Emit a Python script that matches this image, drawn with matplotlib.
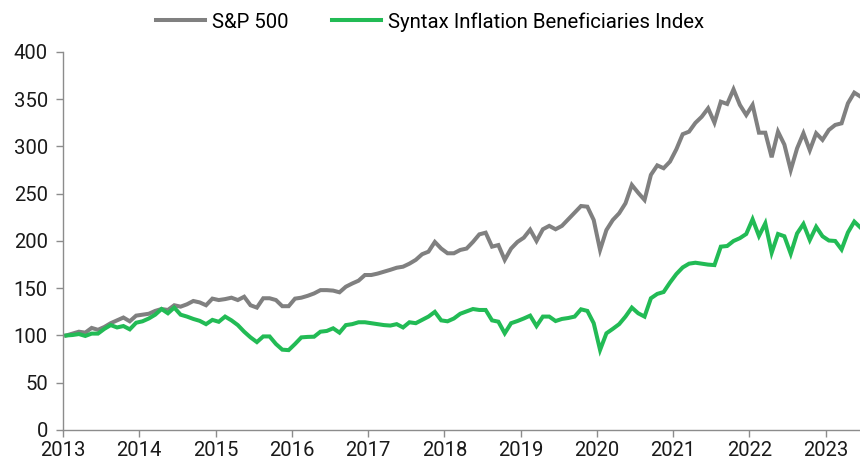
import numpy as np
import matplotlib
matplotlib.use("Agg")
import matplotlib.pyplot as plt

GREY, GREEN, INK, AXIS = "#808080", "#22BB55", "#1a1a1a", "#8c8c8c"

plt.rcParams.update({
    "font.family": ["Roboto", "DejaVu Sans"],
    "font.size": 14.4,
})

# monthly index levels, Jan 2013 .. Jun 2023 (start = 100)
SP500 = [
    100, 102, 104, 103, 108, 106, 109, 113, 116, 119, 115, 121,
    122, 123, 126, 128, 127, 132, 130.5, 133, 136.5, 135, 132, 139,
    137.5, 138.5, 140, 137.5, 141, 132, 129.5, 139.4, 139.4, 137.5, 131, 131,
    139, 140, 142, 144.5, 148, 148, 147.5, 145.7, 151.6, 155, 158, 164,
    164, 165.5, 167.5, 169.5, 171.7, 172.8, 176, 180, 186, 188.7, 199, 192,
    187, 187, 190.5, 192, 199, 207, 208.8, 194, 195.7, 180, 192, 199,
    203.5, 212, 200, 212.4, 216, 212.4, 216, 223, 230, 237, 236.3, 222.2,
    190.5, 211.6, 222.2, 229.3, 239.9, 259.3, 251, 243.4, 270, 280, 277, 284,
    297, 313, 315.7, 325, 331.5, 340.4, 325.2, 347.4, 345, 360.5, 344, 333.3,
    344, 314.6, 314.6, 288.6, 315.7, 302, 275, 298, 314, 296, 314, 307,
    317.5, 322.8, 324.5, 345.7, 357, 352.7,
]
SYNTAX = [
    100, 100.5, 101.5, 99.5, 102, 102, 107, 111, 108.5, 110, 106.5, 113.5,
    115, 118, 122, 128, 123.5, 129.5, 122, 120, 117.5, 115.5, 112, 116.5,
    114.5, 120, 116, 111, 104, 98, 93, 99, 99, 91, 85, 84.5,
    91, 98, 98.5, 98.7, 104, 104.8, 107.6, 103, 111, 112, 114, 114,
    113, 112, 111, 110.5, 112, 108.5, 114, 113, 116.5, 120, 125, 116,
    115, 118, 123, 125.5, 128, 127, 127, 116, 114.6, 102.3, 113, 115.3,
    118, 121, 110, 120, 120, 115.3, 117.5, 118.5, 120, 127.7, 126, 113,
    84.7, 102.3, 107, 112, 120, 129.5, 123.5, 120, 139.4, 144, 146, 156,
    165, 172, 176, 177, 176, 175, 174.5, 194, 194.7, 200, 203, 207.4,
    223, 205.3, 218.7, 187.6, 207.4, 205, 186.5, 208, 218, 201, 215, 205,
    200.5, 200, 191, 209, 220.5, 214,
]
YEARS = list(range(2013, 2024))
Y_TICKS = [0, 50, 100, 150, 200, 250, 300, 350, 400]

x = 2013 + (np.arange(len(SP500)) + 0.5) / 12

fig = plt.figure(figsize=(8.6, 4.65), dpi=100)
ax = fig.add_axes([0.0733, 0.0753, 0.9267, 0.8129])

ax.plot(x, SP500, color=GREY, lw=2.9, label="S&P 500", solid_joinstyle="miter")
ax.plot(x, SYNTAX, color=GREEN, lw=2.9, label="Syntax Inflation Beneficiaries Index",
        solid_joinstyle="miter")

ax.set_xlim(2013, 2023.45)
ax.set_ylim(0, 400)
ax.set_xticks(YEARS)
ax.set_yticks(Y_TICKS)
for s in ("top", "right"):
    ax.spines[s].set_visible(False)
for s in ("left", "bottom"):
    ax.spines[s].set_color(AXIS)
    ax.spines[s].set_linewidth(1.0)
ax.tick_params(colors=AXIS, labelcolor=INK, length=5, width=1.0, labelsize=14.6)
ax.tick_params(axis="x", pad=3)
ax.tick_params(axis="y", pad=6)

fig.legend(loc="center", bbox_to_anchor=(0.5, 0.953), ncol=2, frameon=False,
           handlelength=2.4, handletextpad=0.35, columnspacing=2.1, fontsize=14.7)

fig.savefig("out.png", dpi=100, facecolor="white")
